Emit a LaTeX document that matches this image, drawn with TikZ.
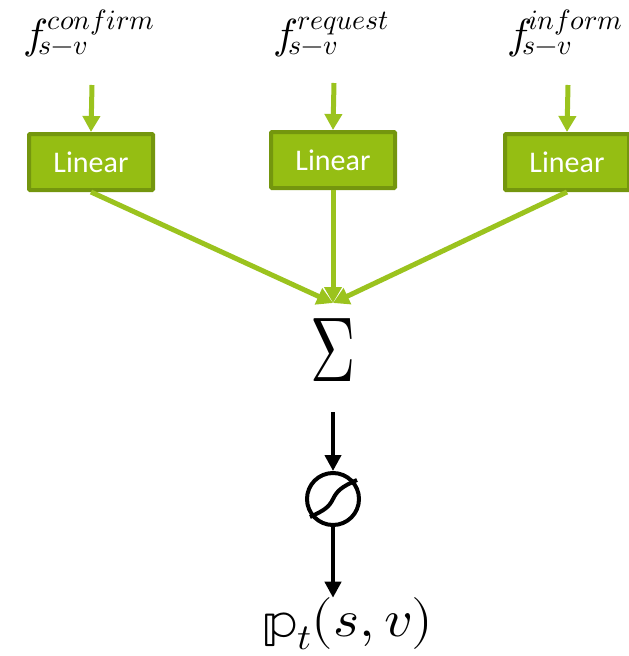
\documentclass[tikz,border=0pt]{standalone}
\usepackage{fontspec}
\usepackage{unicode-math}
\setmainfont{Carlito}
\usetikzlibrary{arrows.meta}
\definecolor{boxfill}{HTML}{95BE13}
\definecolor{boxedge}{HTML}{74960E}
\definecolor{arrgreen}{HTML}{9BC31E}
\newcommand{\flab}[2]{\rlap{$f$}\hspace*{15pt}\rlap{\raisebox{-6pt}{\fontsize{28}{28}\selectfont$s{-}v$}}\hspace*{#2}\raisebox{19pt}{\fontsize{28}{28}\selectfont$#1$}}
\tikzset{
  linbox/.style={draw=boxedge, line width=4pt, fill=boxfill, text=white,
    minimum width=124pt, minimum height=56pt, inner sep=0pt, rounded corners=1pt,
    font=\fontsize{30}{30}\selectfont},
  garrow/.style={draw=arrgreen, line width=5pt, -{Triangle[length=16pt,width=17pt]}},
  barrow/.style={draw=black, line width=4pt, -{Triangle[length=16pt,width=16pt]}},
  flabel/.style={anchor=base west, inner sep=0pt, font=\fontsize{42}{42}\selectfont},
}
\begin{document}
\begin{tikzpicture}[x=1pt,y=-1pt]
\useasboundingbox (0,0) rectangle (629,656);
% labels
\node[flabel] (f1) at (23,48) {\flab{confirm}{9pt}};
\node[flabel] (f2) at (273,48) {\flab{request}{9pt}};
\node[flabel] (f3) at (507,48) {\flab{inform}{6pt}};
% arrow start coordinates
\coordinate (a1) at (92,85);
\coordinate (a2) at (334,83);
\coordinate (a3) at (568,85);
% boxes
\node[linbox] (b1) at (91,162) {Linear};
\node[linbox] (b2) at (333,160) {Linear};
\node[linbox] (b3) at (567,162) {Linear};
\draw[garrow] (a1) -- (b1.north);
\draw[garrow] (a2) -- (b2.north);
\draw[garrow] (a3) -- (b3.north);
% sum
\coordinate (conv) at (333,303);
\draw[garrow] (b1.south) -- (conv);
\draw[garrow] (b3.south) -- (conv);
\draw[garrow] (b2.south) -- (conv);
\node[inner sep=0pt] (sum) at (333,350) {\scalebox{0.68}[1]{\fontsize{92}{92}\selectfont$\Sigma$}};
% sigmoid
\coordinate (s0) at (333,412);
\node[draw, circle, line width=4pt, minimum size=52pt, inner sep=0pt] (sig) at (333,499) {};
\draw[line width=4pt] ([shift={(-23,18)}]sig.center) .. controls ([shift={(-8,11)}]sig.center) and ([shift={(-4,8)}]sig.center) .. (sig.center)
  .. controls ([shift={(4,-8)}]sig.center) and ([shift={(8,-12)}]sig.center) .. ([shift={(24,-19)}]sig.center);
\draw[barrow] (s0) -- (sig.north);
\node[inner sep=0pt] (p) at (348,624) {\scalebox{1.07}[1]{\fontsize{52}{52}\selectfont$\mathbb{p}_t(s,v)$}};
\draw[barrow] (sig.south) -- (p.north -| sig.south);
\end{tikzpicture}
\end{document}
